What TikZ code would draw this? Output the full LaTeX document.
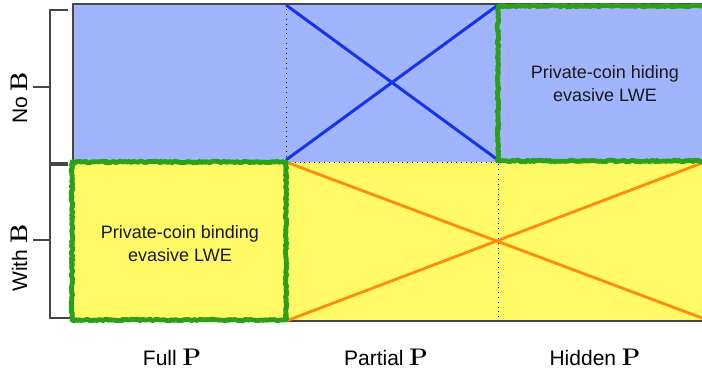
\documentclass[tikz,border=0pt]{standalone}
\usepackage{fontspec}
\setsansfont{Liberation Sans}
\usetikzlibrary{decorations.pathmorphing}
\definecolor{cellblue}{RGB}{161,181,255}
\definecolor{cellyellow}{RGB}{255,250,102}
\definecolor{xblue}{RGB}{22,52,238}
\definecolor{xorange}{RGB}{255,140,10}
\definecolor{boxgreen}{RGB}{44,160,24}
\definecolor{framegray}{RGB}{70,70,70}
\newcommand{\bigbold}[1]{{\rmfamily\bfseries\fontsize{12}{13}\selectfont #1}}
\begin{document}
\begin{tikzpicture}[x=0.5pt,y=-0.5pt,
  frame/.style={draw=framegray,line width=0.7pt},
  gridline/.style={draw=black,line width=0.45pt,dotted},
  xbluel/.style={draw=xblue,line width=1.5pt},
  xorangel/.style={draw=xorange,line width=1.4pt},
  greenbox/.style={draw=boxgreen,line width=2.4pt,line join=round,
    decorate,decoration={random steps,segment length=0.8pt,amplitude=0.45pt}},
  bracketl/.style={draw=framegray,line width=0.75pt},
  celltext/.style={font=\sffamily\fontsize{9}{11.5}\selectfont,align=center,text=black!90},
  axistext/.style={font=\sffamily\fontsize{10.5}{12}\selectfont,text=black}]
\useasboundingbox (0,0) rectangle (702,371);
\clip (0,0) rectangle (702,371);
% fills
\fill[cellblue] (73,4) rectangle (712,162);
\fill[cellyellow] (73,162) rectangle (712,321);
% frame
\draw[frame] (712,4) -- (73,4) -- (73,321) -- (712,321);
% grid
\coordinate (tl) at (286,4);
\coordinate (tm) at (286,162);
\coordinate (mr) at (498,162);
\coordinate (br) at (498,321);
\coordinate (bl) at (286,321);
\draw[gridline] (tl) -- (tm) -- (mr) -- (br);
% blue cross
\coordinate (b1) at (286,5);
\coordinate (b2) at (498,160);
\coordinate (b3) at (286,160);
\coordinate (b4) at (498,5);
\draw[xbluel] (b1) -- (b2);
\draw[xbluel] (b3) -- (b4);
% orange cross
\coordinate (o1) at (702,318);
\coordinate (o2) at (702,163);
\draw[xorangel] (tm) -- (o1);
\draw[xorangel] (bl) -- (o2);
% green boxes
\draw[greenbox] (286,162) -- (72,162) -- (72,320) -- (286,320) -- cycle;
\draw[greenbox] (712,6) -- (498,6) -- (498,161) -- (712,161);
% brackets
\draw[bracketl] (68,10) -- (50,10) -- (50,163) -- (68,163);
\draw[bracketl] (33,87) -- (50,87);
\draw[bracketl] (68,165) -- (50,165) -- (50,318) -- (70,318);
\draw[bracketl] (33,240) -- (50,240);
% cell texts
\node[celltext] (hiding) at (605,84) {Private-coin hiding\\evasive LWE};
\node[celltext] (binding) at (180,244) {Private-coin binding\\evasive LWE};
% axis labels
\node[axistext,rotate=90] (noB) at (19,98) {No \bigbold{B}};
\node[axistext,rotate=90] (withB) at (19,258) {With \bigbold{B}};
\node[axistext,anchor=base] (full) at (172,365) {Full \bigbold{P}};
\node[axistext,anchor=base] (partial) at (386,365) {Partial \bigbold{P}};
\node[axistext,anchor=base] (hidden) at (595,365) {Hidden \bigbold{P}};
\end{tikzpicture}
\end{document}
